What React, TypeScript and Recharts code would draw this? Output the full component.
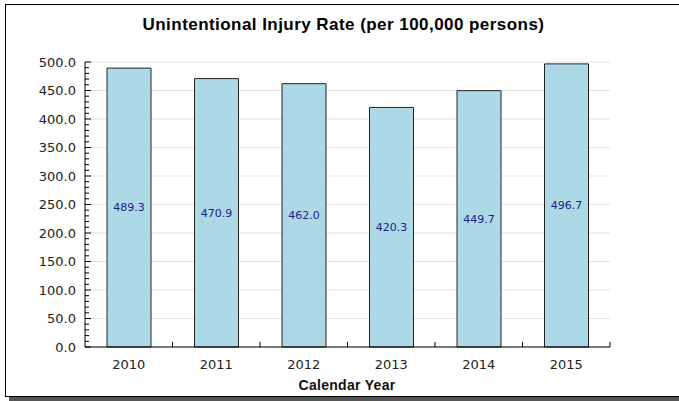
import { BarChart, Bar, XAxis, YAxis, CartesianGrid, LabelList } from "recharts";

const years = ["2010", "2011", "2012", "2013", "2014", "2015"];
const rates = [489.3, 470.9, 462.0, 420.3, 449.7, 496.7];
const yMajorTicks = [0, 50, 100, 150, 200, 250, 300, 350, 400, 450, 500];
// minor tick marks every 10 along the value axis
const yMinorTicks = Array.from({ length: 51 }, (_, i) => i * 10);

const data = years.map((year, i) => ({ year, rate: rates[i] }));

const tickFont = "'DejaVu Sans', sans-serif";
const titleFont = "'Liberation Sans', Arial, sans-serif";

const YTick = (props: any) => {
  const { x, y, payload } = props;
  const v = payload.value as number;
  const major = yMajorTicks.includes(v);
  return (
    <g>
      <line x1={x} x2={x + (major ? 6 : 4)} y1={y} y2={y} stroke="#000" />
      {major && (
        <text x={x - 9} y={y} dy={4.5} textAnchor="end" fontSize={13} fontFamily={tickFont} fill="#222">
          {v.toFixed(1)}
        </text>
      )}
    </g>
  );
};

const XTick = (props: any) => {
  const { x, y, payload } = props;
  const off = payload.offset ?? 43.75;
  return (
    <g>
      <line x1={x + off} x2={x + off} y1={y} y2={y - 5} stroke="#000" />
      <text x={x} y={y + 22} textAnchor="middle" fontSize={13} fontFamily={tickFont} fill="#222">
        {payload.value}
      </text>
    </g>
  );
};

export default function App() {
  return (
    <div style={{ position: "absolute", left: 0, top: 0, width: 679, height: 401, background: "#fff", overflow: "hidden" }}>
      <div
        style={{
          position: "absolute",
          left: 5,
          top: 4,
          width: 700,
          height: 391,
          border: "1px solid #000",
          boxShadow: "4px 4px 0 #555",
        }}
      />
      <div
        style={{
          position: "absolute",
          left: 4,
          top: 15,
          width: 679,
          textAlign: "center",
          fontFamily: titleFont,
          fontWeight: "bold",
          fontSize: 17,
          letterSpacing: 0.45,
          lineHeight: "20px",
          color: "#000",
        }}
      >
        Unintentional Injury Rate (per 100,000 persons)
      </div>
      <div style={{ position: "absolute", left: 0, top: 0 }}>
        <BarChart width={679} height={401} data={data} margin={{ top: 62, right: 69, bottom: 14, left: 25 }}>
          <CartesianGrid vertical={false} stroke="#e2e2e2" horizontalValues={yMajorTicks} />
          <YAxis
            type="number"
            domain={[0, 500]}
            ticks={yMinorTicks}
            interval={0}
            width={60}
            tickLine={false}
            tickSize={0}
            tickMargin={0}
            axisLine={{ stroke: "#000" }}
            tick={<YTick />}
          />
          <XAxis
            dataKey="year"
            height={40}
            interval={0}
            tickLine={false}
            tickSize={0}
            tickMargin={0}
            axisLine={{ stroke: "#000" }}
            tick={<XTick />}
          />
          <Bar dataKey="rate" fill="#ADD8E6" stroke="#222" strokeWidth={1} barSize={44} isAnimationActive={false}>
            <LabelList
              dataKey="rate"
              position="center"
              fill="#1c1c8c"
              fontSize={11}
              fontFamily={tickFont}
              formatter={(v: any) => Number(v).toFixed(1)}
            />
          </Bar>
        </BarChart>
      </div>
      <div
        style={{
          position: "absolute",
          left: 297,
          top: 377,
          width: 100,
          textAlign: "center",
          fontFamily: titleFont,
          fontWeight: "bold",
          fontSize: 14,
          letterSpacing: 0.3,
          lineHeight: "16px",
          color: "#111",
        }}
      >
        Calendar Year
      </div>
    </div>
  );
}
